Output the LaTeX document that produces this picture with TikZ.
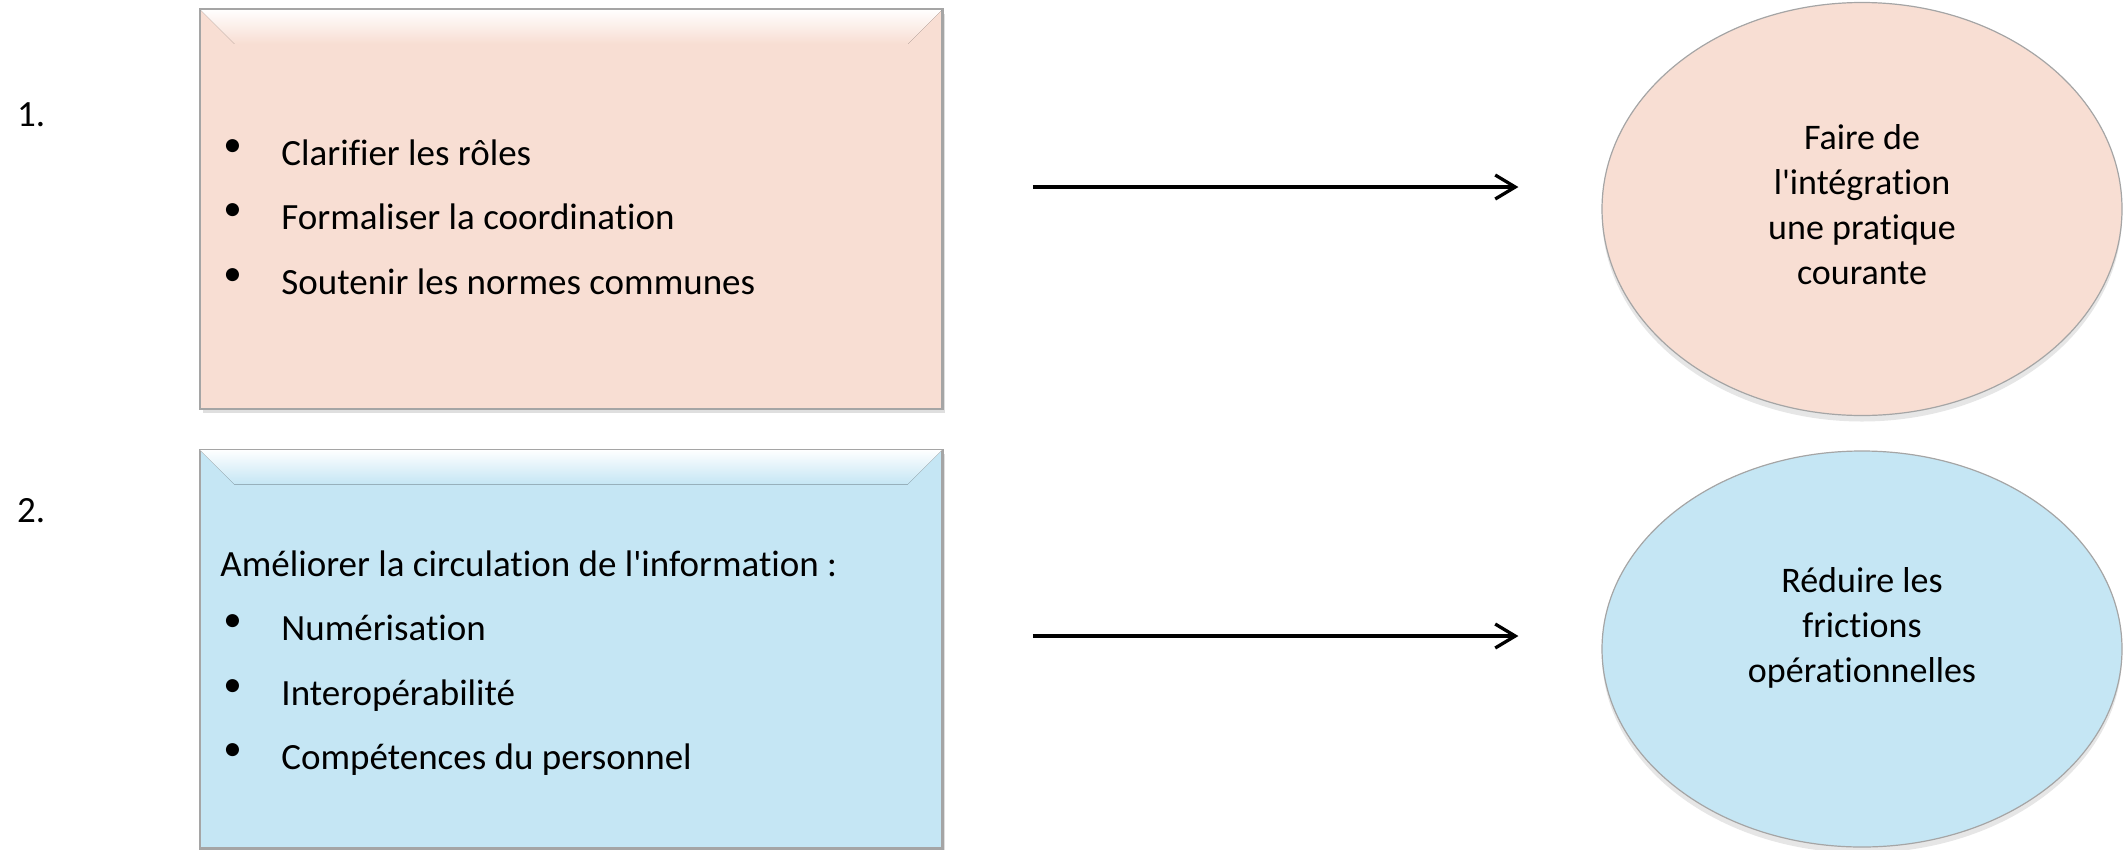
\documentclass[tikz,border=0pt]{standalone}
\usepackage{fontspec}
\setmainfont{Carlito}[Ligatures={CommonOff}]
\usetikzlibrary{arrows.meta, calc, shapes.geometric, shadows}

\definecolor{boxpink}{RGB}{248,222,211}
\definecolor{boxblue}{RGB}{197,230,244}
\definecolor{edgegray}{RGB}{165,165,165}
\pgfdeclareradialshading{goalpink}{\pgfpoint{0bp}{0bp}}{color(0bp)=(boxpink); color(38bp)=(boxpink); color(48bp)=(boxpink!92!black); color(50bp)=(boxpink!80!black); color(70bp)=(boxpink!80!black)}
\pgfdeclareradialshading{goalblue}{\pgfpoint{0bp}{0bp}}{color(0bp)=(boxblue); color(38bp)=(boxblue); color(48bp)=(boxblue!92!black); color(50bp)=(boxblue!80!black); color(70bp)=(boxblue!80!black)}

\begin{document}
\begin{tikzpicture}[x=1pt, y=-1pt,
    plan/.style={rectangle, draw=edgegray, line width=1.5pt, minimum width=742pt,
        drop shadow={shadow xshift=3pt, shadow yshift=-4pt, opacity=0.25}},
    goal/.style={ellipse, shade, draw=edgegray, line width=1.2pt, minimum width=520pt,
        drop shadow={shadow xshift=0pt, shadow yshift=-6pt, opacity=0.2}},
    itemtext/.style={anchor=west, align=left, inner sep=0pt, font=\fontsize{37}{64.5}\selectfont},
    goaltext/.style={align=center, inner sep=0pt, font=\fontsize{36}{45}\selectfont},
    num/.style={anchor=west, inner sep=0pt, font=\fontsize{37}{44}\selectfont},
    flow/.style={-{Straight Barb[length=20pt, width=24pt]}, line width=3.3pt}]
    \useasboundingbox (0,0) rectangle (2124,849);

    \node[num] (n1) at (17,115) {1.};
    \node[num] (n2) at (17,511) {2.};

    \node[plan, fill=boxpink, minimum height=399pt] (b1) at (571,209) {};
    \node[plan, fill=boxblue, minimum height=398pt] (b2) at (571,649) {};

    \foreach \b/\c in {b1/boxpink, b2/boxblue}{
        \fill[top color=white, bottom color=\c] (\b.north west) -- (\b.north east)
            -- ([shift={(-35pt,-35pt)}]\b.north east) -- ([shift={(35pt,-35pt)}]\b.north west) -- cycle;
        \draw[edgegray, line width=1.5pt] (\b.north west) rectangle (\b.south east);
    }

    \newcommand{\itembullet}{\makebox[54pt][l]{\hspace*{-4pt}\raisebox{9pt}{\textbullet}}}
    \node[itemtext] (l1) at ($(b1.west)+(28,8)$) {\itembullet Clarifier les rôles\\
        \itembullet Formaliser la coordination\\
        \itembullet Soutenir les normes communes};
    \node[itemtext] (l2) at ($(b2.west)+(21,14)$) {Améliorer la circulation de l\textquotesingle information :\\
        \hspace*{7pt}\itembullet Numérisation\\
        \hspace*{7pt}\itembullet Interopérabilité\\
        \hspace*{7pt}\itembullet Compétences du personnel};

    \node[goal, shading=goalpink, minimum height=413pt] (e1) at (1862,209) {};
    \node[goal, shading=goalblue, minimum height=396pt] (e2) at (1862,649) {};
    \node[goaltext] (g1) at ($(e1.center)+(0,-4)$) {Faire de\\l\textquotesingle intégration\\une pratique\\courante};
    \node[goaltext] (g2) at ($(e2.center)+(0,-21)$) {Réduire les\\frictions\\opérationnelles};

    \draw[flow, shorten <=90pt, shorten >=83pt] ([yshift=22pt]b1.east) -- ([yshift=22pt]e1.west);
    \draw[flow, shorten <=90pt, shorten >=83pt] ([yshift=13pt]b2.east) -- ([yshift=13pt]e2.west);
\end{tikzpicture}
\end{document}
